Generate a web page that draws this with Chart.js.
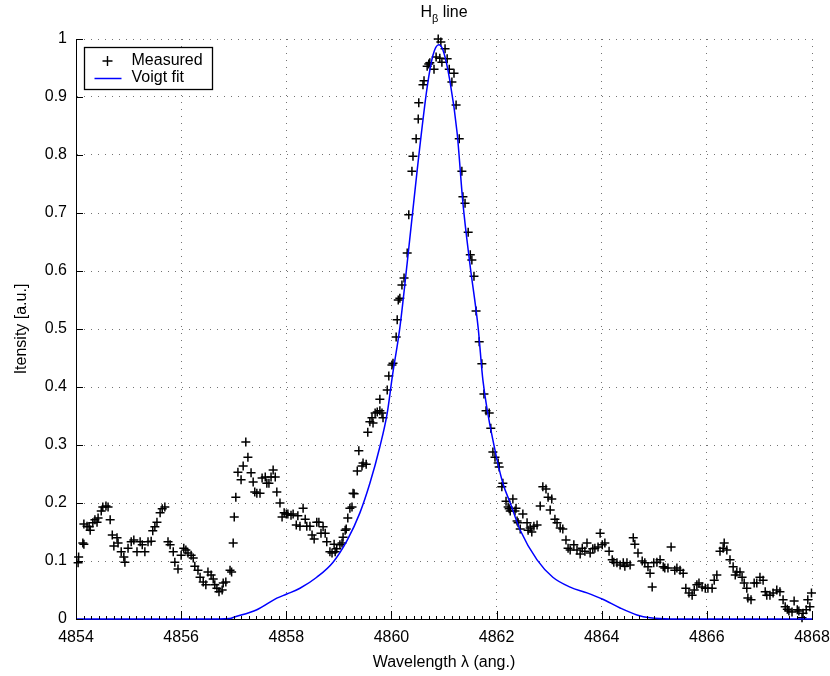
<!DOCTYPE html>
<html>
<head>
<meta charset="utf-8">
<title>H-beta line</title>
<script src="https://cdn.jsdelivr.net/npm/chart.js@4"></script>
<style>
  body { margin: 0; background: #fff; }
  #wrap { position: relative; width: 830px; height: 676px; }
  #plotTitle {
    position: absolute; top: 3px; left: 344px; width: 200px;
    text-align: center; font: 16px 'Liberation Sans', Arial, sans-serif;
    line-height: 18px; color: #000;
  }
  #plotTitle sub { font-size: 11px; vertical-align: -5px; line-height: 0; }
</style>
</head>
<body>
<div id="wrap">
  <canvas id="hbeta" width="830" height="676"></canvas>
  <div id="plotTitle">H<sub>β</sub> line</div>
</div>
<script>
// measured spectrum (wavelength in angstrom, normalised intensity)
const wavelength = [
  4854.04, 4854.05, 4854.13, 4854.15, 4854.15, 4854.21, 4854.25, 4854.27, 4854.32, 4854.36,
  4854.40, 4854.42, 4854.48, 4854.51, 4854.57, 4854.61, 4854.65, 4854.69, 4854.72, 4854.78,
  4854.80, 4854.86, 4854.91, 4854.93, 4854.99, 4855.05, 4855.10, 4855.16, 4855.22, 4855.26,
  4855.31, 4855.37, 4855.43, 4855.46, 4855.50, 4855.54, 4855.60, 4855.64, 4855.69, 4855.75,
  4855.79, 4855.85, 4855.88, 4855.94, 4856.00, 4856.05, 4856.09, 4856.13, 4856.19, 4856.23,
  4856.26, 4856.32, 4856.36, 4856.42, 4856.47, 4856.51, 4856.57, 4856.61, 4856.64, 4856.68,
  4856.72, 4856.78, 4856.80, 4856.85, 4856.93, 4856.96, 4856.99, 4857.01, 4857.04, 4857.08,
  4857.14, 4857.18, 4857.23, 4857.27, 4857.33, 4857.37, 4857.40, 4857.44, 4857.50, 4857.54,
  4857.60, 4857.63, 4857.67, 4857.71, 4857.75, 4857.79, 4857.82, 4857.88, 4857.92, 4857.96,
  4858.00, 4858.03, 4858.09, 4858.13, 4858.19, 4858.22, 4858.26, 4858.32, 4858.36, 4858.39,
  4858.45, 4858.49, 4858.53, 4858.58, 4858.62, 4858.66, 4858.70, 4858.74, 4858.77, 4858.83,
  4858.87, 4858.91, 4858.93, 4858.96, 4859.02, 4859.06, 4859.08, 4859.12, 4859.14, 4859.17,
  4859.21, 4859.25, 4859.27, 4859.29, 4859.35, 4859.38, 4859.44, 4859.46, 4859.52, 4859.55,
  4859.59, 4859.63, 4859.65, 4859.69, 4859.73, 4859.78, 4859.78, 4859.82, 4859.84, 4859.92,
  4859.95, 4860.01, 4860.03, 4860.09, 4860.11, 4860.13, 4860.16, 4860.20, 4860.24, 4860.30,
  4860.33, 4860.39, 4860.41, 4860.47, 4860.51, 4860.52, 4860.60, 4860.62, 4860.68, 4860.71,
  4860.73, 4860.81, 4860.85, 4860.89, 4860.92, 4860.94, 4860.96, 4861.02, 4861.06, 4861.10,
  4861.15, 4861.19, 4861.23, 4861.29, 4861.34, 4861.36, 4861.40, 4861.46, 4861.50, 4861.53,
  4861.57, 4861.61, 4861.67, 4861.72, 4861.76, 4861.80, 4861.86, 4861.89, 4861.93, 4861.97,
  4862.03, 4862.05, 4862.10, 4862.12, 4862.18, 4862.22, 4862.24, 4862.26, 4862.31, 4862.35,
  4862.37, 4862.39, 4862.41, 4862.45, 4862.50, 4862.58, 4862.60, 4862.64, 4862.67, 4862.71,
  4862.77, 4862.83, 4862.88, 4862.94, 4862.98, 4863.02, 4863.05, 4863.11, 4863.15, 4863.21,
  4863.26, 4863.32, 4863.36, 4863.40, 4863.47, 4863.53, 4863.59, 4863.63, 4863.68, 4863.72,
  4863.78, 4863.83, 4863.87, 4863.93, 4863.97, 4864.01, 4864.06, 4864.14, 4864.20, 4864.23,
  4864.29, 4864.35, 4864.41, 4864.44, 4864.48, 4864.54, 4864.60, 4864.63, 4864.69, 4864.77,
  4864.82, 4864.88, 4864.92, 4864.96, 4864.99, 4865.05, 4865.11, 4865.17, 4865.20, 4865.26,
  4865.32, 4865.39, 4865.43, 4865.49, 4865.55, 4865.60, 4865.66, 4865.72, 4865.76, 4865.81,
  4865.85, 4865.91, 4865.97, 4866.02, 4866.10, 4866.14, 4866.19, 4866.25, 4866.31, 4866.33,
  4866.38, 4866.44, 4866.50, 4866.54, 4866.57, 4866.63, 4866.67, 4866.71, 4866.76, 4866.78,
  4866.84, 4866.90, 4866.95, 4867.01, 4867.07, 4867.11, 4867.14, 4867.20, 4867.26, 4867.33,
  4867.39, 4867.45, 4867.49, 4867.53, 4867.56, 4867.62, 4867.66, 4867.72, 4867.75, 4867.81,
  4867.83, 4867.89, 4867.92, 4867.96, 4867.99
];
const intensity = [
  0.097, 0.107, 0.131, 0.129, 0.164, 0.160, 0.159, 0.153, 0.166, 0.171,
  0.167, 0.174, 0.186, 0.193, 0.195, 0.193, 0.171, 0.145, 0.126, 0.140,
  0.131, 0.116, 0.107, 0.098, 0.122, 0.133, 0.136, 0.116, 0.133, 0.128,
  0.116, 0.133, 0.134, 0.152, 0.159, 0.167, 0.183, 0.190, 0.193, 0.133,
  0.128, 0.116, 0.098, 0.086, 0.110, 0.122, 0.119, 0.114, 0.110, 0.105,
  0.091, 0.084, 0.072, 0.064, 0.059, 0.081, 0.076, 0.069, 0.059, 0.053,
  0.047, 0.050, 0.062, 0.064, 0.084, 0.081, 0.131, 0.176, 0.210, 0.253,
  0.240, 0.264, 0.305, 0.279, 0.252, 0.236, 0.219, 0.217, 0.217, 0.243,
  0.245, 0.234, 0.234, 0.245, 0.257, 0.245, 0.219, 0.200, 0.176, 0.183,
  0.181, 0.181, 0.179, 0.181, 0.162, 0.178, 0.160, 0.191, 0.172, 0.160,
  0.160, 0.145, 0.138, 0.167, 0.167, 0.148, 0.159, 0.148, 0.133, 0.116,
  0.114, 0.129, 0.116, 0.121, 0.128, 0.131, 0.141, 0.153, 0.155, 0.174,
  0.191, 0.193, 0.217, 0.216, 0.255, 0.290, 0.264, 0.269, 0.267, 0.322,
  0.340, 0.347, 0.338, 0.355, 0.357, 0.359, 0.379, 0.355, 0.347, 0.395,
  0.419, 0.438, 0.441, 0.486, 0.516, 0.550, 0.553, 0.576, 0.588, 0.631,
  0.697, 0.772, 0.798, 0.828, 0.862, 0.890, 0.921, 0.928, 0.953, 0.957,
  0.959, 0.948, 0.969, 1.000, 0.967, 0.995, 0.960, 0.983, 0.966, 0.948,
  0.926, 0.941, 0.886, 0.828, 0.772, 0.728, 0.717, 0.667, 0.628, 0.619,
  0.591, 0.531, 0.478, 0.440, 0.388, 0.359, 0.355, 0.329, 0.288, 0.279,
  0.269, 0.262, 0.228, 0.234, 0.203, 0.193, 0.190, 0.186, 0.207, 0.186,
  0.191, 0.169, 0.166, 0.155, 0.181, 0.166, 0.153, 0.157, 0.150, 0.160,
  0.162, 0.195, 0.228, 0.224, 0.210, 0.188, 0.207, 0.172, 0.166, 0.157,
  0.155, 0.136, 0.122, 0.119, 0.128, 0.119, 0.112, 0.122, 0.117, 0.131,
  0.114, 0.121, 0.122, 0.124, 0.148, 0.128, 0.131, 0.117, 0.102, 0.098,
  0.097, 0.093, 0.097, 0.091, 0.097, 0.093, 0.140, 0.129, 0.114, 0.100,
  0.097, 0.090, 0.079, 0.055, 0.097, 0.098, 0.102, 0.090, 0.088, 0.088,
  0.124, 0.084, 0.088, 0.084, 0.079, 0.053, 0.045, 0.041, 0.050, 0.059,
  0.062, 0.055, 0.053, 0.053, 0.053, 0.067, 0.076, 0.117, 0.122, 0.131,
  0.119, 0.102, 0.090, 0.076, 0.081, 0.081, 0.072, 0.062, 0.053, 0.036,
  0.033, 0.062, 0.062, 0.072, 0.067, 0.047, 0.041, 0.041, 0.045, 0.050,
  0.047, 0.033, 0.021, 0.017, 0.014, 0.012, 0.031, 0.016, 0.014, 0.002,
  0.010, 0.016, 0.033, 0.021, 0.045
];

// Voigt profile fit, sampled
const fitWavelength = [
  4854.00, 4856.40, 4856.93, 4857.00, 4857.44, 4857.82, 4858.01, 4858.26, 4858.58, 4858.89,
  4859.16, 4859.40, 4859.59, 4859.78, 4859.92, 4860.02, 4860.16, 4860.30, 4860.49, 4860.68,
  4860.79, 4860.90, 4860.98, 4861.11, 4861.25, 4861.36, 4861.49, 4861.65, 4861.74, 4861.97,
  4862.12, 4862.26, 4862.45, 4862.77, 4863.07, 4863.40, 4863.72, 4864.02, 4864.35, 4864.67,
  4864.92, 4865.30, 4868.00
];
const fitIntensity = [
  0, 0, 0.001, 0.003, 0.016, 0.036, 0.043, 0.053, 0.072, 0.098,
  0.136, 0.183, 0.234, 0.297, 0.355, 0.420, 0.502, 0.614, 0.774, 0.917,
  0.972, 0.990, 0.981, 0.929, 0.838, 0.717, 0.614, 0.502, 0.412, 0.291,
  0.234, 0.200, 0.153, 0.102, 0.072, 0.055, 0.045, 0.034, 0.019, 0.007,
  0.002, 0, 0
];

const xTicks = [4854, 4856, 4858, 4860, 4862, 4864, 4866, 4868];
const yTicks = [0, 0.1, 0.2, 0.3, 0.4, 0.5, 0.6, 0.7, 0.8, 0.9, 1];
const minorPerMajor = 14;

const FONT = "'Liberation Sans', Arial, Helvetica, sans-serif";
const GRID = 'rgba(0,0,0,0.55)';

Chart.defaults.font.family = FONT;
Chart.defaults.font.size = 16;
Chart.defaults.color = '#000';

// inward ticks (matlab style) plus the boxed legend in the upper left corner
const axesDecor = {
  id: 'axesDecor',
  afterDatasetsDraw(chart) {
    const { ctx, chartArea: a, scales: { x, y } } = chart;
    ctx.save();
    ctx.strokeStyle = '#000';
    ctx.lineWidth = 1;
    ctx.beginPath();
    const step = (xTicks[1] - xTicks[0]) / minorPerMajor;
    const nMinor = Math.round((xTicks[xTicks.length - 1] - xTicks[0]) / step);
    for (let i = 0; i <= nMinor; i++) {
      const px = Math.round(x.getPixelForValue(xTicks[0] + i * step)) + 0.5;
      ctx.moveTo(px, a.bottom);
      ctx.lineTo(px, a.bottom - 3);
    }
    xTicks.forEach(v => {
      const px = Math.round(x.getPixelForValue(v)) + 0.5;
      ctx.moveTo(px, a.bottom);
      ctx.lineTo(px, a.bottom - 8);
    });
    yTicks.forEach(v => {
      const py = Math.round(y.getPixelForValue(v)) + 0.5;
      ctx.moveTo(a.left, py);
      ctx.lineTo(a.left + 7, py);
    });
    ctx.stroke();

    // legend
    const bx = a.left + 8.5, by = a.top + 8.5, bw = 128, bh = 42;
    ctx.fillStyle = '#fff';
    ctx.fillRect(bx, by, bw, bh);
    ctx.lineWidth = 1.3;
    ctx.strokeRect(bx, by, bw, bh);

    ctx.lineWidth = 1.4;
    ctx.beginPath();
    ctx.moveTo(bx + 18, by + 13.5);
    ctx.lineTo(bx + 28, by + 13.5);
    ctx.moveTo(bx + 23, by + 8.5);
    ctx.lineTo(bx + 23, by + 18.5);
    ctx.stroke();

    ctx.strokeStyle = '#0000ff';
    ctx.lineWidth = 1.5;
    ctx.beginPath();
    ctx.moveTo(bx + 10, by + 31);
    ctx.lineTo(bx + 37, by + 31);
    ctx.stroke();

    ctx.fillStyle = '#000';
    ctx.font = '16px ' + FONT;
    ctx.textBaseline = 'middle';
    ctx.textAlign = 'left';
    ctx.fillText('Measured', bx + 47, by + 13);
    ctx.fillText('Voigt fit', bx + 47, by + 30);
    ctx.restore();
  }
};

new Chart(document.getElementById('hbeta'), {
  type: 'scatter',
  data: {
    datasets: [{
      label: 'Measured',
      data: wavelength.map((w, i) => ({ x: w, y: intensity[i] })),
      pointStyle: 'cross',
      pointRadius: 4.5,
      pointBorderColor: '#000',
      pointBorderWidth: 1.5,
      showLine: false,
      clip: false,
      order: 2
    }, {
      label: 'Voigt fit',
      data: fitWavelength.map((w, i) => ({ x: w, y: fitIntensity[i] })),
      showLine: true,
      borderColor: '#0000ff',
      borderWidth: 1.5,
      pointRadius: 0,
      cubicInterpolationMode: 'monotone',
      clip: false,
      order: 1
    }]
  },
  options: {
    responsive: false,
    animation: false,
    layout: { padding: { top: 39, right: 18, left: 0, bottom: 0 } },
    plugins: {
      legend: { display: false },
      tooltip: { enabled: false },
      title: { display: false }
    },
    scales: {
      x: {
        type: 'linear',
        min: xTicks[0],
        max: xTicks[xTicks.length - 1],
        afterBuildTicks: s => { s.ticks = xTicks.map(v => ({ value: v })); },
        afterFit: s => { s.height = 57; s.paddingLeft = 0; s.paddingRight = 0; },
        ticks: { autoSkip: false, maxRotation: 0, padding: 9, callback: v => String(v) },
        grid: { color: GRID, lineWidth: 1, drawTicks: false },
        border: { display: true, color: '#000', width: 1, dash: [1, 6] },
        title: { display: true, text: 'Wavelength λ (ang.)', padding: { top: 0, bottom: 4 } }
      },
      y: {
        type: 'linear',
        min: yTicks[0],
        max: yTicks[yTicks.length - 1],
        afterBuildTicks: s => { s.ticks = yTicks.map(v => ({ value: v })); },
        afterFit: s => { s.width = 76; s.paddingTop = 0; s.paddingBottom = 0; },
        ticks: { padding: 9, callback: v => String(Number(v.toFixed(1))) },
        grid: { color: GRID, lineWidth: 1, drawTicks: false },
        border: { display: true, color: '#000', width: 1, dash: [1, 6] },
        title: { display: true, text: 'Itensity [a.u.]', padding: { top: 12, bottom: 0 } }
      }
    }
  },
  plugins: [axesDecor]
});
</script>
</body>
</html>
